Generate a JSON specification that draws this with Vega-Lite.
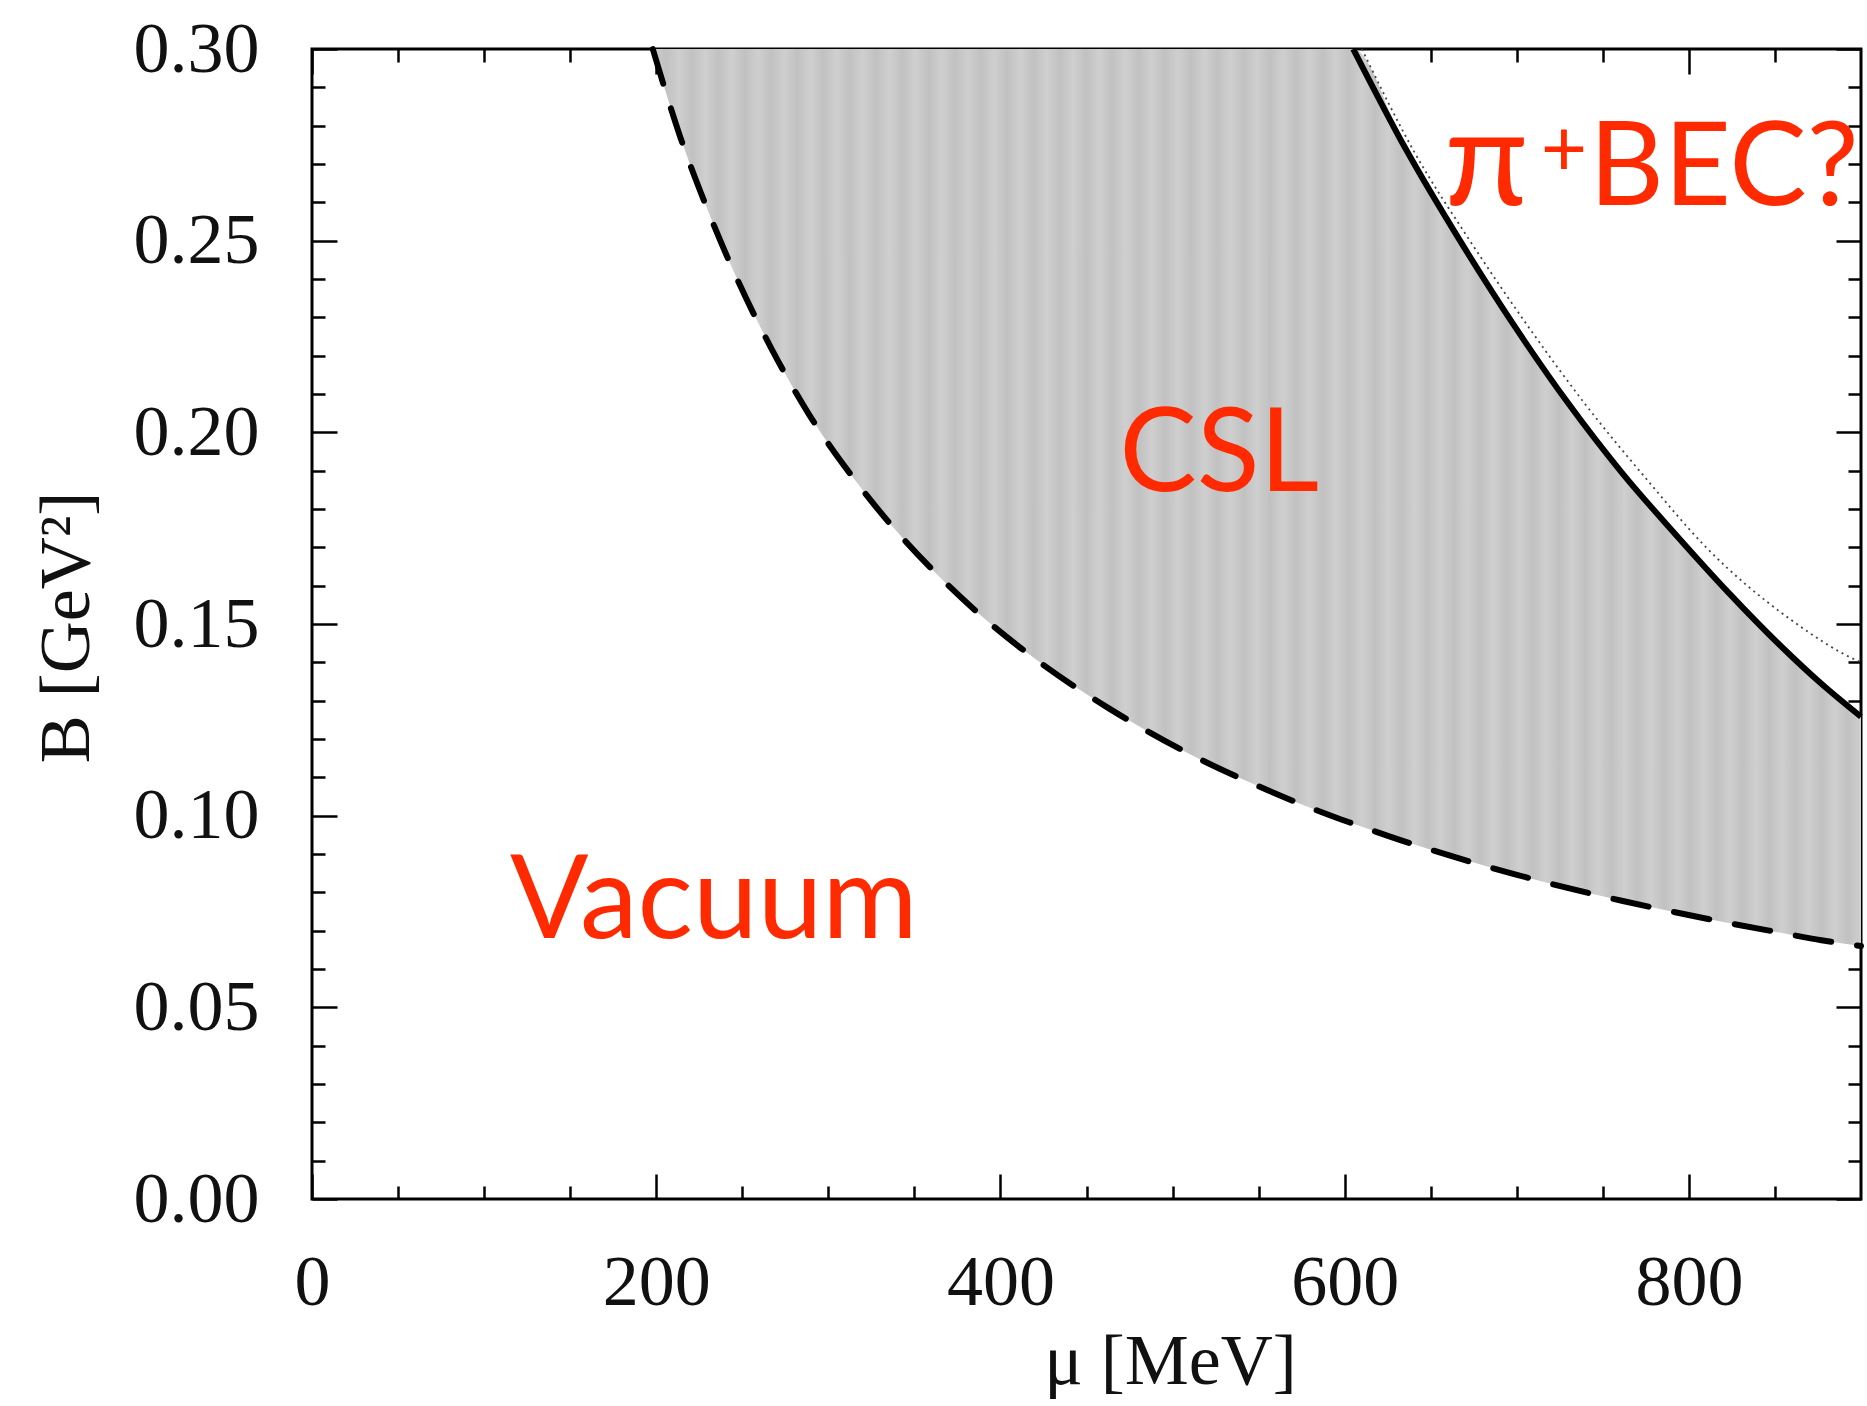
{
  "$schema": "https://vega.github.io/schema/vega-lite/v6.json",
  "width": 1549,
  "height": 1150,
  "autosize": {"type": "none"},
  "padding": {"left": 312, "top": 49, "right": 6, "bottom": 207},
  "background": "white",
  "config": {
    "view": {"stroke": "black", "strokeWidth": 3},
    "axis": {"domain": false, "grid": false, "tickColor": "black", "tickWidth": 2.5, "labelFlush": false, "labelOverlap": false, "labelFont": "Liberation Serif", "labelFontSize": 72, "labelColor": "#111", "titleFont": "Liberation Serif", "titleFontSize": 72, "titleFontWeight": "normal", "titleColor": "#111"}
  },
  "datasets": {
    "band": [
      {"mu": 198, "lo": 0.300, "hi": 0.300},
      {"mu": 214, "lo": 0.2770, "hi": 0.3},
      {"mu": 229, "lo": 0.2590, "hi": 0.3},
      {"mu": 247, "lo": 0.2400, "hi": 0.3},
      {"mu": 267, "lo": 0.2218, "hi": 0.3},
      {"mu": 289, "lo": 0.2045, "hi": 0.3},
      {"mu": 315, "lo": 0.1878, "hi": 0.3},
      {"mu": 342, "lo": 0.1730, "hi": 0.3},
      {"mu": 366, "lo": 0.1617, "hi": 0.3},
      {"mu": 388, "lo": 0.1525, "hi": 0.3},
      {"mu": 425, "lo": 0.1393, "hi": 0.3},
      {"mu": 463, "lo": 0.1280, "hi": 0.3},
      {"mu": 509, "lo": 0.1163, "hi": 0.3},
      {"mu": 555, "lo": 0.1067, "hi": 0.3},
      {"mu": 598, "lo": 0.0990, "hi": 0.3},
      {"mu": 605, "lo": 0.0979, "hi": 0.3},
      {"mu": 636, "lo": 0.0931, "hi": 0.2735},
      {"mu": 667, "lo": 0.0888, "hi": 0.2500},
      {"mu": 699, "lo": 0.0847, "hi": 0.2275},
      {"mu": 730, "lo": 0.0811, "hi": 0.2075},
      {"mu": 761, "lo": 0.0778, "hi": 0.1895},
      {"mu": 792, "lo": 0.0748, "hi": 0.1735},
      {"mu": 823, "lo": 0.0720, "hi": 0.1582},
      {"mu": 854, "lo": 0.0694, "hi": 0.1440},
      {"mu": 877, "lo": 0.0675, "hi": 0.1344},
      {"mu": 900, "lo": 0.0660, "hi": 0.1258}
    ],
    "dotted": [
      {"mu": 610, "B": 0.300},
      {"mu": 640, "B": 0.2735},
      {"mu": 672, "B": 0.2505},
      {"mu": 706, "B": 0.2280},
      {"mu": 740, "B": 0.2072},
      {"mu": 775, "B": 0.1880},
      {"mu": 810, "B": 0.1700},
      {"mu": 859, "B": 0.1512},
      {"mu": 897, "B": 0.1406},
      {"mu": 900, "B": 0.1400}
    ],
    "labels": [
      {"mu": 115, "B": 0.0681, "label": "Vacuum"},
      {"mu": 469, "B": 0.1848, "label": "CSL"},
      {"mu": 742, "B": 0.2593, "label": "BEC?"}
    ],
    "pi": [
      {"mu": 658, "B": 0.2593, "label": "π"}
    ],
    "sup": [
      {"mu": 714, "B": 0.2669, "label": "+"}
    ]
  },
  "resolve": {"axis": {"x": "independent", "y": "independent"}},
  "layer": [
    {
      "data": {"name": "band"},
      "mark": {"type": "area", "interpolate": "monotone",
        "color": {"gradient": "linear", "x1": 0, "y1": 0, "x2": 1, "y2": 0, "stops": [
          {"offset": 0, "color": "#cfcfcf"}, {"offset": 0.01087, "color": "#c1c1c1"},
          {"offset": 0.02174, "color": "#cfcfcf"}, {"offset": 0.03261, "color": "#c1c1c1"},
          {"offset": 0.04348, "color": "#cfcfcf"}, {"offset": 0.05435, "color": "#c1c1c1"},
          {"offset": 0.06522, "color": "#cfcfcf"}, {"offset": 0.07609, "color": "#c1c1c1"},
          {"offset": 0.08696, "color": "#cfcfcf"}, {"offset": 0.09783, "color": "#c1c1c1"},
          {"offset": 0.10870, "color": "#cfcfcf"}, {"offset": 0.11957, "color": "#c1c1c1"},
          {"offset": 0.13043, "color": "#cfcfcf"}, {"offset": 0.14130, "color": "#c1c1c1"},
          {"offset": 0.15217, "color": "#cfcfcf"}, {"offset": 0.16304, "color": "#c1c1c1"},
          {"offset": 0.17391, "color": "#cfcfcf"}, {"offset": 0.18478, "color": "#c1c1c1"},
          {"offset": 0.19565, "color": "#cfcfcf"}, {"offset": 0.20652, "color": "#c1c1c1"},
          {"offset": 0.21739, "color": "#cfcfcf"}, {"offset": 0.22826, "color": "#c1c1c1"},
          {"offset": 0.23913, "color": "#cfcfcf"}, {"offset": 0.25000, "color": "#c1c1c1"},
          {"offset": 0.26087, "color": "#cfcfcf"}, {"offset": 0.27174, "color": "#c1c1c1"},
          {"offset": 0.28261, "color": "#cfcfcf"}, {"offset": 0.29348, "color": "#c1c1c1"},
          {"offset": 0.30435, "color": "#cfcfcf"}, {"offset": 0.31522, "color": "#c1c1c1"},
          {"offset": 0.32609, "color": "#cfcfcf"}, {"offset": 0.33696, "color": "#c1c1c1"},
          {"offset": 0.34783, "color": "#cfcfcf"}, {"offset": 0.35870, "color": "#c1c1c1"},
          {"offset": 0.36957, "color": "#cfcfcf"}, {"offset": 0.38043, "color": "#c1c1c1"},
          {"offset": 0.39130, "color": "#cfcfcf"}, {"offset": 0.40217, "color": "#c1c1c1"},
          {"offset": 0.41304, "color": "#cfcfcf"}, {"offset": 0.42391, "color": "#c1c1c1"},
          {"offset": 0.43478, "color": "#cfcfcf"}, {"offset": 0.44565, "color": "#c1c1c1"},
          {"offset": 0.45652, "color": "#cfcfcf"}, {"offset": 0.46739, "color": "#c1c1c1"},
          {"offset": 0.47826, "color": "#cfcfcf"}, {"offset": 0.48913, "color": "#c1c1c1"},
          {"offset": 0.50000, "color": "#cfcfcf"}, {"offset": 0.51087, "color": "#c1c1c1"},
          {"offset": 0.52174, "color": "#cfcfcf"}, {"offset": 0.53261, "color": "#c1c1c1"},
          {"offset": 0.54348, "color": "#cfcfcf"}, {"offset": 0.55435, "color": "#c1c1c1"},
          {"offset": 0.56522, "color": "#cfcfcf"}, {"offset": 0.57609, "color": "#c1c1c1"},
          {"offset": 0.58696, "color": "#cfcfcf"}, {"offset": 0.59783, "color": "#c1c1c1"},
          {"offset": 0.60870, "color": "#cfcfcf"}, {"offset": 0.61957, "color": "#c1c1c1"},
          {"offset": 0.63043, "color": "#cfcfcf"}, {"offset": 0.64130, "color": "#c1c1c1"},
          {"offset": 0.65217, "color": "#cfcfcf"}, {"offset": 0.66304, "color": "#c1c1c1"},
          {"offset": 0.67391, "color": "#cfcfcf"}, {"offset": 0.68478, "color": "#c1c1c1"},
          {"offset": 0.69565, "color": "#cfcfcf"}, {"offset": 0.70652, "color": "#c1c1c1"},
          {"offset": 0.71739, "color": "#cfcfcf"}, {"offset": 0.72826, "color": "#c1c1c1"},
          {"offset": 0.73913, "color": "#cfcfcf"}, {"offset": 0.75000, "color": "#c1c1c1"},
          {"offset": 0.76087, "color": "#cfcfcf"}, {"offset": 0.77174, "color": "#c1c1c1"},
          {"offset": 0.78261, "color": "#cfcfcf"}, {"offset": 0.79348, "color": "#c1c1c1"},
          {"offset": 0.80435, "color": "#cfcfcf"}, {"offset": 0.81522, "color": "#c1c1c1"},
          {"offset": 0.82609, "color": "#cfcfcf"}, {"offset": 0.83696, "color": "#c1c1c1"},
          {"offset": 0.84783, "color": "#cfcfcf"}, {"offset": 0.85870, "color": "#c1c1c1"},
          {"offset": 0.86957, "color": "#cfcfcf"}, {"offset": 0.88043, "color": "#c1c1c1"},
          {"offset": 0.89130, "color": "#cfcfcf"}, {"offset": 0.90217, "color": "#c1c1c1"},
          {"offset": 0.91304, "color": "#cfcfcf"}, {"offset": 0.92391, "color": "#c1c1c1"},
          {"offset": 0.93478, "color": "#cfcfcf"}, {"offset": 0.94565, "color": "#c1c1c1"},
          {"offset": 0.95652, "color": "#cfcfcf"}, {"offset": 0.96739, "color": "#c1c1c1"},
          {"offset": 0.97826, "color": "#cfcfcf"}, {"offset": 0.98913, "color": "#c1c1c1"},
          {"offset": 1, "color": "#cfcfcf"}
        ]}},
      "encoding": {
        "x": {"field": "mu", "type": "quantitative", "scale": {"domain": [0, 900], "nice": false, "zero": false},
              "axis": {"orient": "bottom", "values": [0, 200, 400, 600, 800], "tickSize": -25, "labelPadding": 73, "labelBaseline": "top",
                       "title": "μ [MeV]", "titleX": 858, "titleY": 184, "titleBaseline": "alphabetic", "titleAlign": "center", "titleAnchor": null}},
        "y": {"field": "lo", "type": "quantitative", "scale": {"domain": [0, 0.3], "nice": false, "zero": false},
              "axis": {"orient": "left", "values": [0, 0.05, 0.1, 0.15, 0.2, 0.25, 0.3], "format": ".2f", "tickSize": -25, "labelPadding": 78,
                       "title": "B [GeV²]", "titleX": -224, "titleY": 578, "titleAngle": -90, "titleBaseline": "alphabetic", "titleAlign": "center", "titleAnchor": null}},
        "y2": {"field": "hi"}
      }
    },
    {
      "data": {"name": "band"},
      "mark": {"type": "line", "color": "black", "strokeWidth": 6, "strokeDash": [36, 26], "strokeCap": "round", "interpolate": "monotone"},
      "encoding": {
        "x": {"field": "mu", "type": "quantitative", "scale": {"domain": [0, 900], "nice": false, "zero": false},
              "axis": {"orient": "bottom", "values": [50, 100, 150, 250, 300, 350, 450, 500, 550, 650, 700, 750, 850], "tickSize": -13, "labels": false, "title": null}},
        "y": {"field": "lo", "type": "quantitative", "scale": {"domain": [0, 0.3], "nice": false, "zero": false},
              "axis": {"orient": "left", "values": [0.01, 0.02, 0.03, 0.04, 0.06, 0.07, 0.08, 0.09, 0.11, 0.12, 0.13, 0.14, 0.16, 0.17, 0.18, 0.19, 0.21, 0.22, 0.23, 0.24, 0.26, 0.27, 0.28, 0.29], "tickSize": -13, "labels": false, "title": null}}
      }
    },
    {
      "data": {"name": "band"},
      "transform": [{"filter": "datum.mu >= 605"}],
      "mark": {"type": "line", "color": "black", "strokeWidth": 6, "interpolate": "monotone"},
      "encoding": {
        "x": {"field": "mu", "type": "quantitative", "scale": {"domain": [0, 900], "nice": false, "zero": false},
              "axis": {"orient": "top", "values": [0, 200, 400, 600, 800], "tickSize": -25, "labels": false, "title": null}},
        "y": {"field": "hi", "type": "quantitative", "scale": {"domain": [0, 0.3], "nice": false, "zero": false},
              "axis": {"orient": "right", "values": [0, 0.05, 0.1, 0.15, 0.2, 0.25, 0.3], "tickSize": -25, "labels": false, "title": null}}
      }
    },
    {
      "data": {"name": "dotted"},
      "mark": {"type": "line", "color": "#444", "strokeWidth": 1.8, "strokeDash": [2, 4], "interpolate": "monotone"},
      "encoding": {
        "x": {"field": "mu", "type": "quantitative", "scale": {"domain": [0, 900], "nice": false, "zero": false},
              "axis": {"orient": "top", "values": [50, 100, 150, 250, 300, 350, 450, 500, 550, 650, 700, 750, 850], "tickSize": -13, "labels": false, "title": null}},
        "y": {"field": "B", "type": "quantitative", "scale": {"domain": [0, 0.3], "nice": false, "zero": false},
              "axis": {"orient": "right", "values": [0.01, 0.02, 0.03, 0.04, 0.06, 0.07, 0.08, 0.09, 0.11, 0.12, 0.13, 0.14, 0.16, 0.17, 0.18, 0.19, 0.21, 0.22, 0.23, 0.24, 0.26, 0.27, 0.28, 0.29], "tickSize": -13, "labels": false, "title": null}}
      }
    },
    {
      "data": {"name": "labels"},
      "mark": {"type": "text", "color": "#ff2a00", "font": "Lato", "fontSize": 116, "align": "left", "baseline": "alphabetic"},
      "encoding": {
        "x": {"field": "mu", "type": "quantitative", "scale": {"domain": [0, 900], "nice": false, "zero": false}, "axis": null},
        "y": {"field": "B", "type": "quantitative", "scale": {"domain": [0, 0.3], "nice": false, "zero": false}, "axis": null},
        "text": {"field": "label"}
      }
    },
    {
      "data": {"name": "pi"},
      "mark": {"type": "text", "color": "#ff2a00", "font": "Lato", "fontSize": 136, "align": "left", "baseline": "alphabetic"},
      "encoding": {
        "x": {"field": "mu", "type": "quantitative", "scale": {"domain": [0, 900], "nice": false, "zero": false}, "axis": null},
        "y": {"field": "B", "type": "quantitative", "scale": {"domain": [0, 0.3], "nice": false, "zero": false}, "axis": null},
        "text": {"field": "label"}
      }
    },
    {
      "data": {"name": "sup"},
      "mark": {"type": "text", "color": "#ff2a00", "font": "Lato", "fontSize": 80, "align": "left", "baseline": "alphabetic"},
      "encoding": {
        "x": {"field": "mu", "type": "quantitative", "scale": {"domain": [0, 900], "nice": false, "zero": false}, "axis": null},
        "y": {"field": "B", "type": "quantitative", "scale": {"domain": [0, 0.3], "nice": false, "zero": false}, "axis": null},
        "text": {"field": "label"}
      }
    }
  ]
}
